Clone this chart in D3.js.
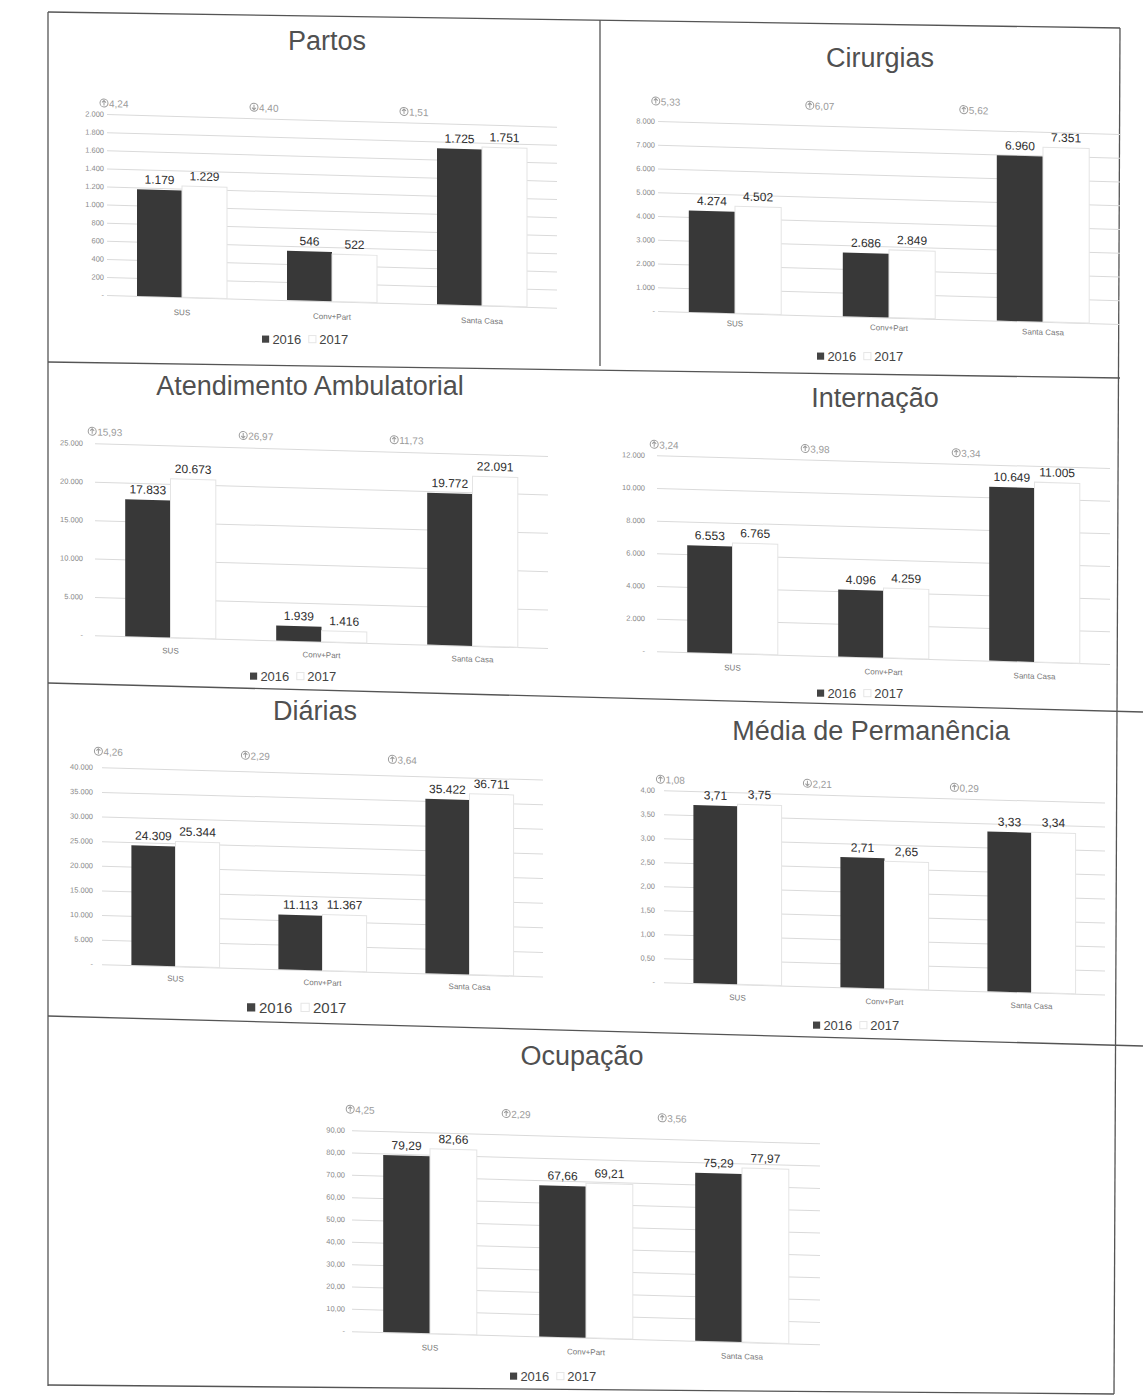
<!DOCTYPE html>
<html>
<head>
<meta charset="utf-8">
<script src="https://cdn.jsdelivr.net/npm/d3@7"></script>
<style>
body { margin: 0; background: #fff; }
text { font-family: "Liberation Sans", Arial, sans-serif; }
</style>
</head>
<body>
<svg id="page" width="1143" height="1397"></svg>
<script>
var hospitals = ["SUS", "Conv+Part", "Santa Casa"];
var years = ["2016", "2017"];

var partos2016 = [1179, 546, 1725];
var partos2017 = [1229, 522, 1751];
var partosVar = ["4,24", "4,40", "1,51"];
var partosTicks = [0, 200, 400, 600, 800, 1000, 1200, 1400, 1600, 1800, 2000];

var cirurgias2016 = [4274, 2686, 6960];
var cirurgias2017 = [4502, 2849, 7351];
var cirurgiasVar = ["5,33", "6,07", "5,62"];
var cirurgiasTicks = [0, 1000, 2000, 3000, 4000, 5000, 6000, 7000, 8000];

var ambul2016 = [17833, 1939, 19772];
var ambul2017 = [20673, 1416, 22091];
var ambulVar = ["15,93", "26,97", "11,73"];
var ambulTicks = [0, 5000, 10000, 15000, 20000, 25000];

var intern2016 = [6553, 4096, 10649];
var intern2017 = [6765, 4259, 11005];
var internVar = ["3,24", "3,98", "3,34"];
var internTicks = [0, 2000, 4000, 6000, 8000, 10000, 12000];

var diarias2016 = [24309, 11113, 35422];
var diarias2017 = [25344, 11367, 36711];
var diariasVar = ["4,26", "2,29", "3,64"];
var diariasTicks = [0, 5000, 10000, 15000, 20000, 25000, 30000, 35000, 40000];

var media2016 = [3.71, 2.71, 3.33];
var media2017 = [3.75, 2.65, 3.34];
var mediaVar = ["1,08", "2,21", "0,29"];
var mediaTicks = [0, 0.5, 1, 1.5, 2, 2.5, 3, 3.5, 4];

var ocup2016 = [79.29, 67.66, 75.29];
var ocup2017 = [82.66, 69.21, 77.97];
var ocupVar = ["4,25", "2,29", "3,56"];
var ocupTicks = [0, 10, 20, 30, 40, 50, 60, 70, 80, 90];

var br = d3.formatLocale({decimal: ",", thousands: ".", grouping: [3], currency: ["R$", ""]});
var fmtInt = br.format(",d"), fmtDec = br.format(",.2f");
function tickInt(d) { return d === 0 ? "-" : fmtInt(d); }
function tickDec(d) { return d === 0 ? "-" : fmtDec(d); }

var skew = 1.6; // the scan is slightly tilted

var charts = [
	{title: "Partos", v16: partos2016, v17: partos2017, pct: partosVar, ticks: partosTicks, tick: tickInt, val: fmtInt,
		x0: 104, y0: 295, h: 181, r0: 3, r1: 453, pctY: -188, catY: 18, tx: 327, ty: 50, lx: 262, ly: 344, lf: 13},
	{title: "Cirurgias", v16: cirurgias2016, v17: cirurgias2017, pct: cirurgiasVar, ticks: cirurgiasTicks, tick: tickInt, val: fmtInt,
		x0: 655, y0: 311, h: 190, r0: 3, r1: 465, pctY: -206, catY: 13, tx: 880, ty: 67, lx: 817, ly: 361, lf: 13},
	{title: "Atendimento Ambulatorial", v16: ambul2016, v17: ambul2017, pct: ambulVar, ticks: ambulTicks, tick: tickInt, val: fmtInt,
		x0: 83, y0: 635, h: 192, r0: 12, r1: 465, pctY: -200, catY: 16, tx: 310, ty: 395, lx: 250, ly: 681, lf: 13},
	{title: "Internação", v16: intern2016, v17: intern2017, pct: internVar, ticks: internTicks, tick: tickInt, val: fmtInt,
		x0: 645, y0: 651, h: 196, r0: 12, r1: 465, pctY: -203, catY: 17, tx: 875, ty: 407, lx: 817, ly: 698, lf: 13},
	{title: "Diárias", v16: diarias2016, v17: diarias2017, pct: diariasVar, ticks: diariasTicks, tick: tickInt, val: fmtInt,
		x0: 93, y0: 964, h: 197, r0: 9, r1: 450, pctY: -209, catY: 15, tx: 315, ty: 720, lx: 247, ly: 1013, lf: 15},
	{title: "Média de Permanência", v16: media2016, v17: media2017, pct: mediaVar, ticks: mediaTicks, tick: tickDec, val: fmtDec,
		x0: 655, y0: 982, h: 192, r0: 9, r1: 450, pctY: -199, catY: 16, tx: 871, ty: 740, lx: 813, ly: 1030, lf: 13},
	{title: "Ocupação", v16: ocup2016, v17: ocup2017, pct: ocupVar, ticks: ocupTicks, tick: tickDec, val: fmtDec,
		x0: 345, y0: 1331, h: 201, r0: 7, r1: 475, pctY: -218, catY: 17, tx: 582, ty: 1065, lx: 510, ly: 1381, lf: 13}
];

var svg = d3.select("#page");

// panel frame lines, as they sit on the scanned page
var frame = [
	[48, 12, 1120, 28], [48, 12, 48, 1386], [1120, 28, 1114, 1394],
	[600, 20, 600, 366], [48, 362, 1120, 378], [48, 683, 1143, 712],
	[48, 1016, 1143, 1046], [48, 1385, 1114, 1394]
];
svg.selectAll("line.frame").data(frame).enter().append("line")
	.attr("class", "frame")
	.attr("x1", function(d) { return d[0]; }).attr("y1", function(d) { return d[1]; })
	.attr("x2", function(d) { return d[2]; }).attr("y2", function(d) { return d[3]; })
	.attr("stroke", "#555").attr("stroke-width", 1.3);

function drawChart(c) {
	var x = d3.scaleBand().domain(hospitals).range([c.r0, c.r1]).paddingInner(0.4).paddingOuter(0.2);
	var xs = d3.scaleBand().domain(years).range([0, x.bandwidth()]);
	var y = d3.scaleLinear().domain([0, c.ticks[c.ticks.length - 1]]).range([0, -c.h]);

	svg.append("text")
		.attr("x", c.tx).attr("y", c.ty)
		.attr("text-anchor", "middle")
		.attr("font-size", 27).attr("fill", "#505050")
		.text(c.title);

	var g = svg.append("g")
		.attr("transform", "translate(" + c.x0 + "," + c.y0 + ") skewY(" + skew + ")");

	// gridlines
	g.append("g")
		.attr("transform", "translate(" + c.r0 + ",0)")
		.call(d3.axisLeft(y).tickValues(c.ticks).tickFormat("").tickSize(-(c.r1 - c.r0)))
		.call(function(a) {
			a.select(".domain").remove();
			a.selectAll("line").attr("stroke", "#dadada");
		});

	// tick labels
	g.append("g")
		.attr("transform", "translate(3,0)")
		.call(d3.axisLeft(y).tickValues(c.ticks).tickFormat(c.tick).tickSize(0))
		.call(function(a) {
			a.select(".domain").remove();
			a.selectAll("text").attr("font-size", 7.5).attr("fill", "#8a8a8a")
				.attr("font-family", "'Liberation Sans', Arial, sans-serif");
		});

	var rows = hospitals.map(function(h, i) {
		return {cat: h, pct: c.pct[i], up: c.v17[i] >= c.v16[i],
			vals: [{year: "2016", v: c.v16[i]}, {year: "2017", v: c.v17[i]}]};
	});

	var grp = g.selectAll("g.cat").data(rows).enter().append("g")
		.attr("class", "cat")
		.attr("transform", function(d) { return "translate(" + x(d.cat) + ",0)"; });

	grp.selectAll("rect").data(function(d) { return d.vals; }).enter().append("rect")
		.attr("x", function(d) { return xs(d.year); })
		.attr("width", xs.bandwidth())
		.attr("y", function(d) { return y(d.v); })
		.attr("height", function(d) { return -y(d.v); })
		.attr("fill", function(d) { return d.year === "2016" ? "#383838" : "#fff"; })
		.attr("stroke", function(d) { return d.year === "2016" ? "none" : "#e4e4e4"; });

	grp.selectAll("text.val").data(function(d) { return d.vals; }).enter().append("text")
		.attr("class", "val")
		.attr("x", function(d) { return xs(d.year) + xs.bandwidth() / 2; })
		.attr("y", function(d) { return y(d.v) - 6; })
		.attr("text-anchor", "middle")
		.attr("font-size", 12).attr("fill", "#2e2e2e")
		.text(function(d) { return c.val(d.v); });

	grp.append("text")
		.attr("x", x.bandwidth() / 2).attr("y", c.catY)
		.attr("text-anchor", "middle")
		.attr("font-size", 8).attr("fill", "#777")
		.text(function(d) { return d.cat; });

	// variation label with arrow icon
	var p = grp.append("g").attr("transform", "translate(-37," + c.pctY + ")");
	p.append("circle").attr("cx", 4).attr("cy", -4).attr("r", 4)
		.attr("fill", "none").attr("stroke", "#9a9a9a").attr("stroke-width", 1);
	p.append("path")
		.attr("d", function(d) { return d.up ? "M4,-6.5L4,-1.5M2,-4.5L4,-6.5L6,-4.5" : "M4,-6.5L4,-1.5M2,-3.5L4,-1.5L6,-3.5"; })
		.attr("fill", "none").attr("stroke", "#9a9a9a").attr("stroke-width", 1);
	p.append("text").attr("x", 9).attr("y", 0)
		.attr("font-size", 10).attr("fill", "#9a9a9a")
		.text(function(d) { return d.pct; });

	// legend
	var lg = svg.append("g").attr("transform", "translate(" + c.lx + "," + c.ly + ")");
	var s = c.lf;
	lg.append("rect").attr("x", 0).attr("y", -s * 0.65).attr("width", s * 0.55).attr("height", s * 0.55).attr("fill", "#444");
	lg.append("text").attr("x", s * 0.8).attr("y", 0).attr("font-size", s).attr("fill", "#444").text(years[0]);
	lg.append("rect").attr("x", s * 3.6).attr("y", -s * 0.65).attr("width", s * 0.55).attr("height", s * 0.55)
		.attr("fill", "#fff").attr("stroke", "#e6e6e6");
	lg.append("text").attr("x", s * 4.4).attr("y", 0).attr("font-size", s).attr("fill", "#444").text(years[1]);
}

charts.forEach(drawChart);
</script>
</body>
</html>
